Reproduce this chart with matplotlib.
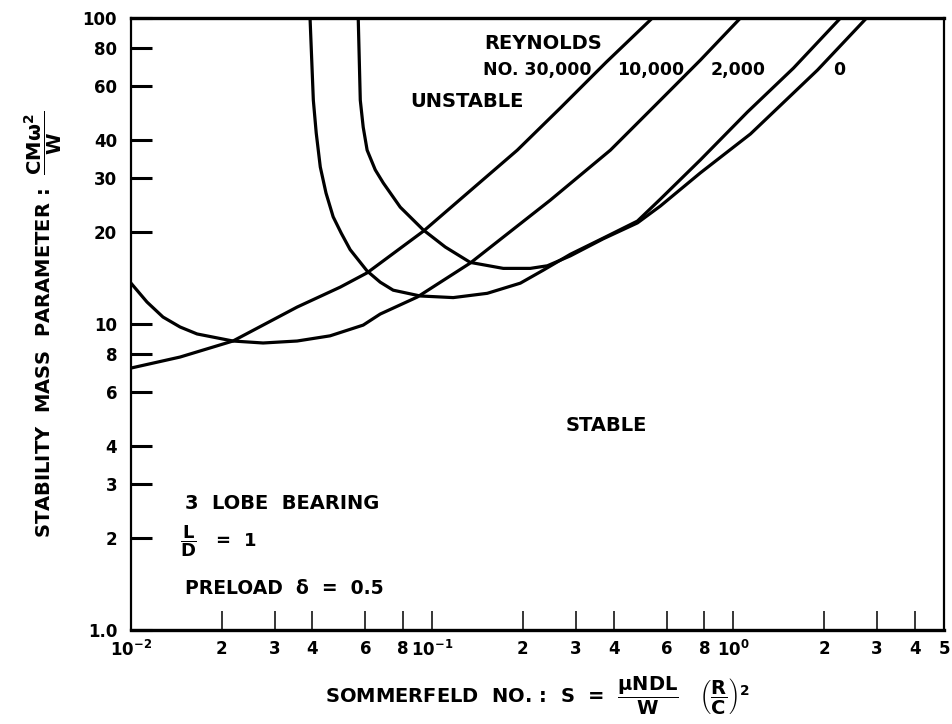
import matplotlib
matplotlib.use('Agg')
import matplotlib.pyplot as plt

plt.rcParams['font.family'] = ['DejaVu Sans']
plt.rcParams['font.weight'] = 'bold'
plt.rcParams['axes.labelweight'] = 'bold'
plt.rcParams['mathtext.fontset'] = 'custom'
plt.rcParams['mathtext.rm'] = 'DejaVu Sans:bold'
plt.rcParams['mathtext.it'] = 'DejaVu Sans:bold'
plt.rcParams['mathtext.bf'] = 'DejaVu Sans:bold'

# curves: Sommerfeld number S vs stability mass parameter
re30000_s = [0.01, 0.01455, 0.0218, 0.0356, 0.0495, 0.0608, 0.0934, 0.1368, 0.1916,
             0.2662, 0.3785, 0.538]
re30000_m = [7.18, 7.80, 8.80, 11.36, 13.2, 14.7, 20.1, 27.8, 37.0,
             50.8, 71.8, 100]

re10000_s = [0.01, 0.0113, 0.01277, 0.01455, 0.01657, 0.0218, 0.02745, 0.0356, 0.0458,
             0.0590, 0.0672, 0.0892, 0.1337, 0.2466, 0.3903, 0.5506, 0.777, 1.055]
re10000_m = [13.6, 11.8, 10.54, 9.78, 9.28, 8.80, 8.67, 8.80, 9.15,
             9.92, 10.78, 12.25, 15.82, 25.4, 37.0, 51.9, 72.9, 100]

re2000_s = [0.0393, 0.0403, 0.0412, 0.0425, 0.0444, 0.0469, 0.0499, 0.0534, 0.0608,
            0.0672, 0.0742, 0.0912, 0.1174, 0.1523, 0.1961, 0.2338, 0.2874, 0.370,
            0.480, 0.572, 0.777, 1.113, 1.582, 2.267]
re2000_m = [100, 53.9, 42.1, 32.6, 26.8, 22.4, 19.8, 17.5, 14.9,
            13.7, 12.9, 12.35, 12.2, 12.6, 13.6, 15.0, 16.9, 19.1,
            21.7, 25.6, 34.4, 49.3, 68.6, 100]

re0_s = [0.0568, 0.0577, 0.0590, 0.0608, 0.0647, 0.0688, 0.0783, 0.0934, 0.1105,
         0.1337, 0.1721, 0.2116, 0.2411, 0.2874, 0.370, 0.480, 0.572, 0.777,
         1.139, 1.358, 1.901, 2.766]
re0_m = [100, 53.9, 44.0, 37.0, 31.9, 28.9, 24.1, 20.3, 17.85,
         15.9, 15.2, 15.2, 15.5, 16.7, 19.0, 21.4, 24.3, 31.2,
         41.8, 49.3, 67.6, 100]

x_ticks = [0.01, 0.02, 0.03, 0.04, 0.06, 0.08, 0.1, 0.2, 0.3, 0.4, 0.6, 0.8, 1, 2, 3, 4, 5]
x_labels = ['$10^{-2}$', '2', '3', '4', '6', '8', '$10^{-1}$', '2', '3', '4', '6', '8',
            '$10^{0}$', '2', '3', '4', '5']
y_ticks = [1, 2, 3, 4, 6, 8, 10, 20, 30, 40, 60, 80, 100]
y_labels = ['1.0', '2', '3', '4', '6', '8', '10', '20', '30', '40', '60', '80', '100']

fig = plt.figure(figsize=(9.52, 7.24), dpi=100)
ax = fig.add_axes([0.1376, 0.1298, 0.854, 0.8453])

for s, m in [(re30000_s, re30000_m), (re10000_s, re10000_m),
             (re2000_s, re2000_m), (re0_s, re0_m)]:
    ax.plot(s, m, color='black', lw=2.3, solid_joinstyle='round')

ax.set_xscale('log')
ax.set_yscale('log')
ax.set_xlim(0.01, 5)
ax.set_ylim(1, 100)

ax.set_xticks(x_ticks)
ax.set_xticklabels(x_labels)
ax.set_yticks(y_ticks)
ax.set_yticklabels(y_labels)
ax.minorticks_off()
ax.tick_params(axis='y', direction='in', length=15, width=2.2, pad=10, labelsize=12)
ax.tick_params(axis='x', direction='in', length=14, width=1.1, pad=7, labelsize=12)

for side in ['left', 'right']:
    ax.spines[side].set_linewidth(1.6)
for side in ['top', 'bottom']:
    ax.spines[side].set_linewidth(2.4)

ax.set_ylabel(r'STABILITY  MASS  PARAMETER :  $\dfrac{CM\omega^2}{W}$', fontsize=14)
ax.yaxis.set_label_coords(-0.082, 0.5)
ax.set_xlabel(r'SOMMERFELD  NO. :  S  =  $\dfrac{\mu NDL}{W}$   $\left(\dfrac{R}{C}\right)^2$',
              fontsize=14)
ax.xaxis.set_label_coords(0.5, -0.074)

t = ax.transAxes
ax.text(0.435, 0.959, 'REYNOLDS', transform=t, fontsize=14, va='center')
ax.text(0.433, 0.915, 'NO. 30,000', transform=t, fontsize=12.5, va='center')
ax.text(0.598, 0.915, '10,000', transform=t, fontsize=12.5, va='center')
ax.text(0.713, 0.915, '2,000', transform=t, fontsize=12.5, va='center')
ax.text(0.8635, 0.915, '0', transform=t, fontsize=12.5, va='center')
ax.text(0.343, 0.863, 'UNSTABLE', transform=t, fontsize=14, va='center')
ax.text(0.534, 0.335, 'STABLE', transform=t, fontsize=14, va='center')
ax.text(0.0664, 0.2075, '3  LOBE  BEARING', transform=t, fontsize=14, va='center')
ax.text(0.060, 0.145, r'$\dfrac{L}{D}$   =  1', transform=t, fontsize=13, va='center')
ax.text(0.0664, 0.0686, 'PRELOAD  δ  =  0.5', transform=t, fontsize=13.5, va='center')

fig.savefig('out.png', dpi=100)
